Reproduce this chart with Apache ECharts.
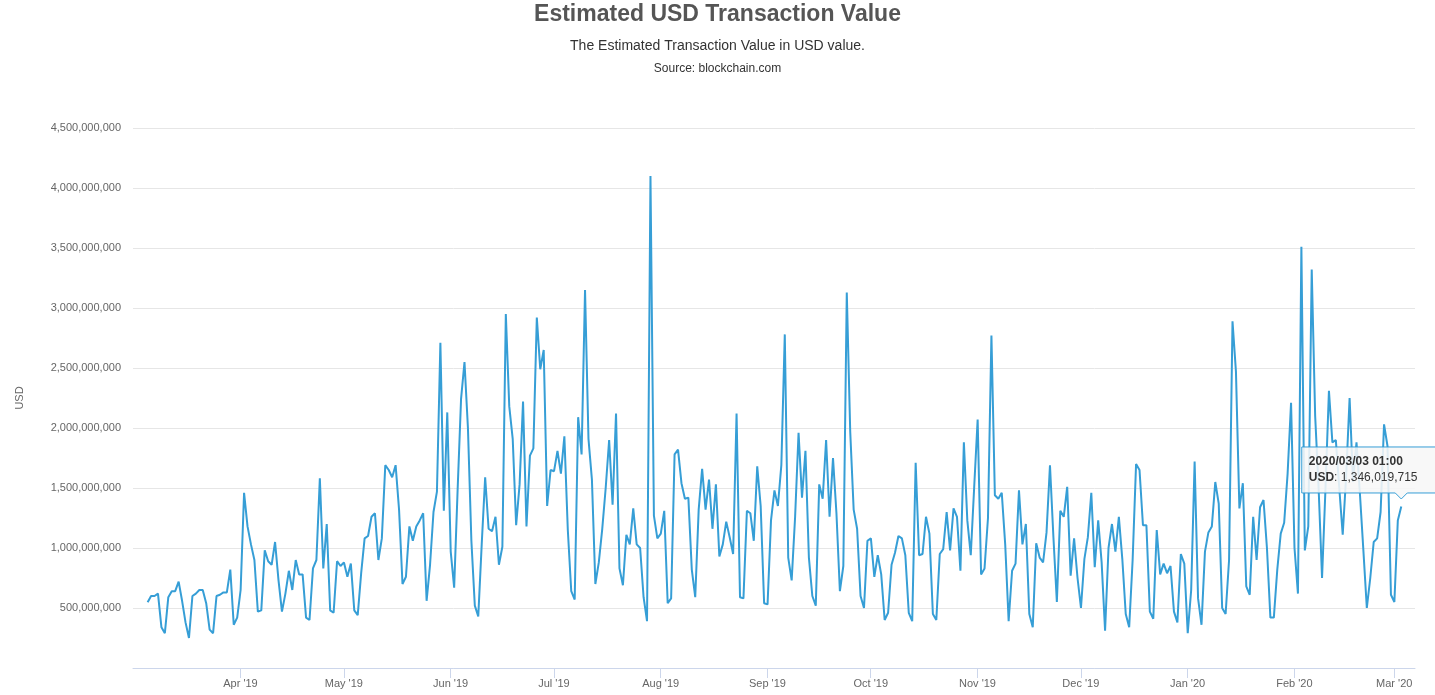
<!DOCTYPE html>
<html>
<head>
<meta charset="utf-8">
<title>Estimated USD Transaction Value</title>
<script src="https://cdn.jsdelivr.net/npm/echarts@6/dist/echarts.min.js"></script>
<style>
  html, body { margin: 0; padding: 0; background: #fff; }
  #chart { width: 1435px; height: 695px; }
</style>
</head>
<body>
<div id="chart"></div>
<script>
  // daily estimated transaction value, millions of USD, one array per month
  const mar19 = [548, 600, 600, 620, 340, 290, 590, 640, 640, 720, 560, 380, 250, 600, 620, 650, 650, 540, 320, 290, 600, 610, 630, 630, 820, 360, 420];
  const apr19 = [650, 1460, 1180, 1030, 900, 470, 480, 980, 890, 860, 1050, 730, 470, 620, 810, 650, 900, 780, 780, 420, 400, 830, 900, 1580, 830, 1200, 480, 460, 890, 850];
  const may19 = [880, 760, 870, 480, 440, 790, 1080, 1100, 1260, 1290, 900, 1080, 1690, 1650, 1590, 1690, 1320, 700, 760, 1180, 1060, 1180, 1230, 1290, 560, 860, 1300, 1470, 2710, 1310, 2130];
  const jun19 = [970, 670, 1480, 2240, 2550, 2000, 1060, 520, 430, 1030, 1590, 1160, 1140, 1260, 860, 1010, 2950, 2180, 1910, 1190, 1530, 2220, 1180, 1770, 1830, 2920, 2490, 2650, 1350, 1650];
  const jul19 = [1640, 1810, 1620, 1930, 1150, 640, 570, 2090, 1780, 3150, 1910, 1570, 700, 880, 1160, 1500, 1900, 1360, 2120, 830, 690, 1110, 1030, 1330, 1030, 1000, 590, 390, 4100, 1270, 1080];
  const aug19 = [1120, 1310, 540, 580, 1780, 1820, 1540, 1410, 1420, 820, 590, 1320, 1660, 1320, 1570, 1160, 1530, 930, 1030, 1220, 1090, 950, 2120, 590, 580, 1310, 1290, 1060, 1680, 1350, 540];
  const sep19 = [530, 1230, 1480, 1350, 1690, 2780, 920, 730, 1260, 1960, 1420, 1810, 920, 600, 520, 1530, 1410, 1900, 1260, 1750, 1290, 640, 850, 3130, 1970, 1320, 1160, 600, 500, 1060];
  const oct19 = [1080, 760, 940, 780, 400, 460, 860, 960, 1100, 1080, 940, 460, 390, 1710, 940, 950, 1260, 1120, 450, 400, 950, 990, 1300, 980, 1330, 1260, 810, 1880, 1230, 940, 1510];
  const nov19 = [2070, 780, 830, 1250, 2770, 1440, 1410, 1460, 1030, 390, 810, 870, 1480, 1030, 1200, 450, 340, 1040, 920, 880, 1130, 1690, 1090, 550, 1310, 1260, 1510, 770, 1080, 750];
  const dec19 = [500, 910, 1090, 1460, 840, 1230, 880, 310, 1000, 1200, 970, 1260, 910, 450, 340, 900, 1700, 1650, 1190, 1190, 470, 410, 1150, 780, 870, 790, 850, 470, 380, 950, 870];
  const jan20 = [290, 650, 1720, 580, 360, 970, 1130, 1180, 1550, 1370, 500, 450, 900, 2890, 2470, 1330, 1540, 680, 610, 1260, 900, 1340, 1400, 1000, 420, 420, 820, 1120, 1210, 1620, 2210];
  const feb20 = [1000, 620, 3510, 980, 1180, 3320, 2100, 1500, 750, 1500, 2310, 1880, 1900, 1500, 1110, 1600, 2250, 1550, 1880, 1450, 980, 500, 750, 1050, 1080, 1300, 2030, 1850, 610];
  const mar20 = [550, 1230, 1346.019715];

  const tickLabels = ["Apr '19", "May '19", "Jun '19", "Jul '19", "Aug '19", "Sep '19", "Oct '19", "Nov '19", "Dec '19", "Jan '20", "Feb '20", "Mar '20"];

  const DAY = 86400000;
  const firstDay = Date.UTC(2019, 2, 5, 1); // blockchain.com stamps each day at 01:00
  const usd = [].concat(mar19, apr19, may19, jun19, jul19, aug19, sep19, oct19, nov19, dec19, jan20, feb20, mar20)
    .map(v => Math.round(v * 1e6));
  const points = usd.map((v, i) => [firstDay + i * DAY, v]);
  const tickDates = tickLabels.map((_, i) => Date.UTC(2019, 3 + i, 1));

  const lineColor = '#369ed6';
  const font = '"Liberation Sans", Arial, sans-serif';

  const chart = echarts.init(document.getElementById('chart'));
  chart.setOption({
    animation: false,
    title: [
      {
        text: 'Estimated USD Transaction Value',
        left: 'center', top: 3, padding: 0,
        textStyle: { fontFamily: font, fontSize: 23, fontWeight: 'bold', color: '#555' }
      },
      {
        text: 'The Estimated Transaction Value in USD value.',
        left: 'center', top: 39, padding: 0,
        textStyle: { fontFamily: font, fontSize: 14, fontWeight: 'normal', color: '#333' }
      },
      {
        text: 'Source: blockchain.com',
        left: 'center', top: 63, padding: 0,
        textStyle: { fontFamily: font, fontSize: 12, fontWeight: 'normal', color: '#333' }
      }
    ],
    grid: { left: 133, right: 20, top: 128, bottom: 27 },
    // dates as millisecond values, monthly ticks placed on the 1st
    xAxis: {
      type: 'value',
      min: Date.UTC(2019, 3, 1) - 31.21 * DAY,
      max: Date.UTC(2019, 3, 1) + 341.03 * DAY,
      axisLine: { lineStyle: { color: '#ccd6eb', width: 1 } },
      axisTick: { show: true, length: 10, customValues: tickDates, lineStyle: { color: '#ccd6eb' } },
      axisLabel: {
        customValues: tickDates,
        margin: 10,
        color: '#666', fontSize: 11, fontFamily: font,
        formatter: v => tickLabels[tickDates.indexOf(v)] || ''
      },
      splitLine: { show: false }
    },
    yAxis: {
      type: 'value',
      min: 0, max: 4500000000, interval: 500000000,
      name: 'USD', nameLocation: 'middle', nameGap: 108, nameRotate: 90,
      nameTextStyle: { color: '#666', fontSize: 11, fontFamily: font },
      axisLine: { show: false },
      axisTick: { show: false },
      axisLabel: {
        showMinLabel: false,
        margin: 12,
        color: '#666', fontSize: 11, fontFamily: font,
        formatter: v => v.toLocaleString('en-US')
      },
      splitLine: { lineStyle: { color: '#e6e6e6', width: 1 } }
    },
    series: [{
      name: 'USD',
      type: 'line',
      data: points,
      showSymbol: false,
      symbol: 'none',
      lineStyle: { color: lineColor, width: 2 },
      itemStyle: { color: lineColor },
      emphasis: { disabled: true }
    }]
  });

  // hover tooltip on the last point, as in the screenshot
  const last = points[points.length - 1];
  const [px, py] = chart.convertToPixel({ gridIndex: 0 }, last);
  const d = new Date(last[0]);
  const pad = n => String(n).padStart(2, '0');
  const stamp = d.getUTCFullYear() + '/' + pad(d.getUTCMonth() + 1) + '/' + pad(d.getUTCDate()) +
    ' ' + pad(d.getUTCHours()) + ':' + pad(d.getUTCMinutes());
  const L = px - 99.5, T = py - 59.5, R = px + 80, B = py - 13.5;
  chart.setOption({
    graphic: [
      {
        type: 'polygon', z: 100,
        shape: { points: [[L, T], [R, T], [R, B], [px + 6, B], [px, B + 6], [px - 6, B], [L, B]] },
        style: { fill: 'rgba(247,247,247,0.88)', stroke: lineColor, lineWidth: 1 }
      },
      {
        type: 'text', z: 101, x: L + 7, y: py - 45,
        style: { text: stamp, fontFamily: font, fontSize: 12, fontWeight: 'bold', fill: '#333', verticalAlign: 'middle' }
      },
      {
        type: 'text', z: 101, x: L + 7, y: py - 29,
        style: {
          text: '{b|USD}: ' + last[1].toLocaleString('en-US'),
          fontFamily: font, fontSize: 12, fill: '#333', verticalAlign: 'middle',
          rich: { b: { fontWeight: 'bold', fontFamily: font, fontSize: 12, fill: '#333' } }
        }
      }
    ]
  });
</script>
</body>
</html>
